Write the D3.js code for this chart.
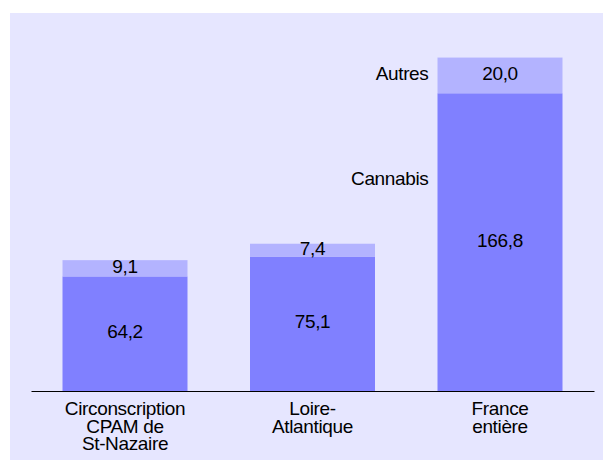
<!DOCTYPE html>
<html>
<head>
<meta charset="utf-8">
<script src="https://cdn.jsdelivr.net/npm/d3@7"></script>
<style>
  body { margin: 0; background: #ffffff; }
  text { font-family: "Liberation Sans", Arial, sans-serif; font-size: 19px; letter-spacing: -0.35px; fill: #000; }
</style>
</head>
<body>
<div id="chart"></div>
<script>
// data
const categories = ['Circonscription CPAM de St-Nazaire', 'Loire-Atlantique', 'France entière'];
const categoryLines = [['Circonscription', 'CPAM de', 'St-Nazaire'], ['Loire-', 'Atlantique'], ['France', 'entière']];
const cannabis = [64.2, 75.1, 166.8];
const autres = [9.1, 7.4, 20.0];
const seriesNames = ['Cannabis', 'Autres'];
// where the series names sit, in data units, next to the last bar
const seriesLabelValues = [118, 176.8];

const width = 603, height = 460;

const svg = d3.select('#chart')
  .append('svg')
  .attr('width', width)
  .attr('height', height);

// panel background
svg.append('rect')
  .attr('x', 10)
  .attr('y', 13)
  .attr('width', width - 10)
  .attr('height', height - 13)
  .attr('fill', '#e6e6ff');

const x = d3.scaleBand()
  .domain(categories)
  .range([31, 594])
  .paddingInner(1 / 3)
  .paddingOuter(0.168);

const y = d3.scaleLinear()
  .domain([0, 200])
  .range([391, 34]);

const fmt = v => d3.format('.1f')(v).replace('.', ',');

const rows = categories.map((c, i) => ({ cat: c, cannabis: cannabis[i], autres: autres[i] }));
const stack = d3.stack().keys(['cannabis', 'autres'])(rows);
const colors = { cannabis: '#8080ff', autres: '#b3b3ff' };

// stacked bars
const layers = svg.selectAll('g.layer')
  .data(stack)
  .join('g')
  .attr('class', 'layer')
  .attr('fill', d => colors[d.key]);

layers.selectAll('rect')
  .data(d => d)
  .join('rect')
  .attr('x', d => x(d.data.cat))
  .attr('y', d => y(d[1]))
  .attr('width', x.bandwidth())
  .attr('height', d => y(d[0]) - y(d[1]));

// value labels
layers.selectAll('text')
  .data(d => d.map(p => ({ p: p, key: d.key })))
  .join('text')
  .attr('text-anchor', 'middle')
  .attr('x', d => x(d.p.data.cat) + x.bandwidth() / 2)
  .attr('y', d => (y(d.p[0]) + y(d.p[1])) / 2 + 4.5)
  .text(d => fmt(d.p.data[d.key]));

// series names beside the last bar
svg.selectAll('text.series')
  .data(seriesNames)
  .join('text')
  .attr('class', 'series')
  .attr('text-anchor', 'end')
  .attr('x', x(categories[2]) - 9)
  .attr('y', (d, i) => y(seriesLabelValues[i]) + 4.5)
  .text(d => d);

// axis line
const axis = svg.append('g')
  .attr('transform', `translate(0, ${y(0)})`)
  .call(d3.axisBottom(x).tickSize(0).tickFormat(''));
axis.select('.domain').attr('stroke', '#000').attr('stroke-width', 1.2);

// category labels
svg.selectAll('text.cat')
  .data(categories)
  .join('text')
  .attr('class', 'cat')
  .attr('text-anchor', 'middle')
  .attr('y', y(0) + 24)
  .each(function (d, i) {
    const t = d3.select(this);
    categoryLines[i].forEach((line, j) => {
      t.append('tspan')
        .attr('x', x(d) + x.bandwidth() / 2)
        .attr('dy', j === 0 ? 0 : 17.5)
        .text(line);
    });
  });
</script>
</body>
</html>
